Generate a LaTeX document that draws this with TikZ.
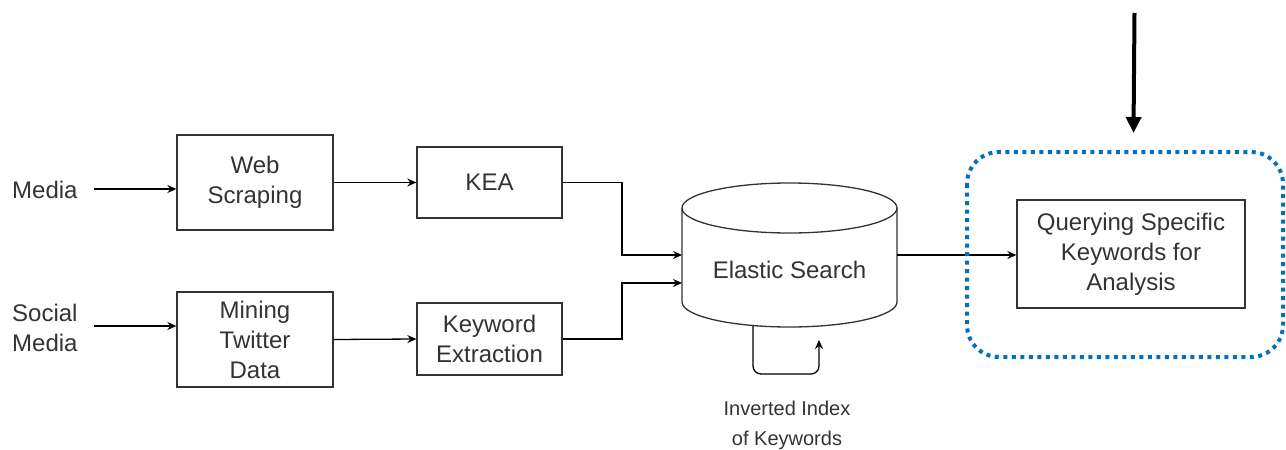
\documentclass[tikz,border=0pt]{standalone}
\usepackage{fontspec}
\setmainfont{Liberation Sans}
\usetikzlibrary{arrows.meta}
\definecolor{ink}{HTML}{333333}
\definecolor{dotblue}{RGB}{0,112,192}
\begin{document}
\begin{tikzpicture}[x=1pt,y=-1pt,
  box/.style={draw=ink,line width=1.3pt,text=ink,align=center,font=\fontsize{24}{30}\selectfont,inner sep=0pt},
  lbl/.style={text=ink,align=center,font=\fontsize{24}{30}\selectfont,inner sep=0pt},
  arr/.style={draw=black,line width=1.3pt,-{Stealth[length=9pt,width=8pt]}},
  conn/.style={draw=black,line width=1.3pt}]
\useasboundingbox (0,0) rectangle (1286,450);
% nodes
\node[lbl,anchor=west] (media) at (12,190) {Media};
\node[lbl,anchor=west] (social) at (12,328) {Social\\Media};
\node[box,minimum width=156,minimum height=95] (web) at (255,182.5) {Web\\Scraping};
\node[box,minimum width=156,minimum height=95] (mine) at (255,339.5) {Mining\\Twitter\\Data};
\node[box,minimum width=145,minimum height=71] (kea) at (489.5,182.5) {KEA};
\node[box,minimum width=145,minimum height=72] (kwe) at (489.5,339) {Keyword\\Extraction};
\node[box,minimum width=228,minimum height=108] (query) at (1131,254) {Querying Specific\\Keywords for\\Analysis};
% cylinder
\draw[draw=ink,line width=1.3pt,fill=white] (682,208) -- (682,302) arc[start angle=180,end angle=360,x radius=107.5,y radius=-25] -- (897,208);
\draw[draw=ink,line width=1.3pt] (789.5,208) ellipse[x radius=107.5,y radius=25];
\node[lbl] (es) at (789.5,270) {Elastic Search};
\coordinate (esin1) at (682,255);
\coordinate (esin2) at (682,283);
\coordinate (esout) at (897,255);
\coordinate (esbot) at (753,325.5);
\coordinate (loopend) at (819,340);
\node[lbl,font=\fontsize{20}{30}\selectfont] (inv) at (787,425) {Inverted Index\\of Keywords};
% connectors
\draw[arr] (94,189) -- (web.west |- 0,189);
\draw[arr] (94,326) -- (mine.west |- 0,326);
\draw[arr] (web.east) -- (kea.west);
\draw[arr] (mine.east) -- (kwe.west);
\draw[arr] (kea.east) -- (622,182.5) |- (esin1);
\draw[arr] (kwe.east) -- (622,339) |- (esin2);
\draw[arr] (esout) -- (query.west |- esout);
\draw[arr,rounded corners=8pt] (esbot) -- (753,374) -- (819,374) -- (loopend);
% dotted group
\draw[dotblue,line width=4pt,dash pattern=on 4pt off 4.5pt,rounded corners=32pt] (967,152) rectangle (1283,357);
% thick arrow
\coordinate (top) at (1134.5,13);
\coordinate (tip) at (1133.5,133);
\draw[line width=4pt,-{Triangle[length=16pt,width=15pt]}] (top) -- (tip);
\end{tikzpicture}
\end{document}
